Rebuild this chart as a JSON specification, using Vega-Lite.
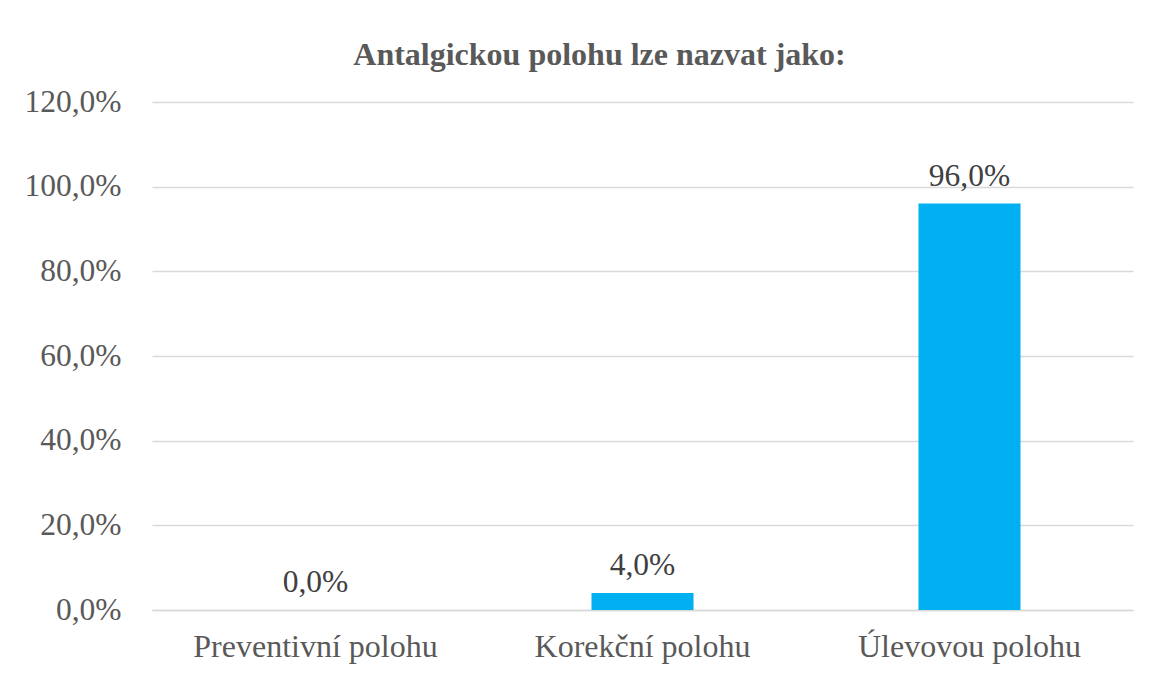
{
  "$schema": "https://vega.github.io/schema/vega-lite/v6.json",
  "autosize": {"type": "none"},
  "width": 981,
  "height": 508,
  "padding": {"left": 152, "top": 102, "right": 16, "bottom": 65},
  "background": "white",
  "config": {
    "locale": {"number": {"decimal": ",", "thousands": " ", "grouping": [3], "currency": ["", " Kč"]}},
    "view": {"stroke": null},
    "font": "Times New Roman, Liberation Serif, serif"
  },
  "title": {
    "text": "Antalgickou polohu lze nazvat jako:",
    "font": "Times New Roman, Liberation Serif, serif",
    "fontSize": 32,
    "fontWeight": "bold",
    "color": "#595959",
    "anchor": "middle",
    "baseline": "alphabetic",
    "offset": 34,
    "dx": -43,
    "dy": 45
  },
  "data": {
    "values": [
      {"kategorie": "Preventivní polohu", "podil": 0.0},
      {"kategorie": "Korekční polohu", "podil": 0.04},
      {"kategorie": "Úlevovou polohu", "podil": 0.96}
    ]
  },
  "encoding": {
    "x": {
      "field": "kategorie",
      "type": "nominal",
      "sort": null,
      "scale": {"paddingInner": 0, "paddingOuter": 0},
      "axis": {
        "title": null,
        "labelAngle": 0,
        "labelFont": "Times New Roman, Liberation Serif, serif",
        "labelFontSize": 32,
        "labelColor": "#595959",
        "labelPadding": 21,
        "labelLimit": 0,
        "ticks": false,
        "domainColor": "#D9D9D9",
        "domainWidth": 1.5,
        "grid": false
      }
    },
    "y": {
      "field": "podil",
      "type": "quantitative",
      "scale": {"domain": [0, 1.2], "nice": false},
      "axis": {
        "title": null,
        "format": ".1%",
        "values": [0, 0.2, 0.4, 0.6, 0.8, 1.0, 1.2],
        "labelFont": "Times New Roman, Liberation Serif, serif",
        "labelFontSize": 31.5,
        "labelColor": "#595959",
        "labelPadding": 31,
        "ticks": false,
        "domain": false,
        "gridColor": "#D9D9D9",
        "gridWidth": 1.5
      }
    }
  },
  "layer": [
    {
      "mark": {"type": "bar", "color": "#00B0F0", "width": {"band": 0.312}}
    },
    {
      "mark": {
        "type": "text",
        "baseline": "alphabetic",
        "dy": -18,
        "font": "Times New Roman, Liberation Serif, serif",
        "fontSize": 31.5,
        "color": "#404040"
      },
      "encoding": {
        "text": {"field": "podil", "type": "quantitative", "format": ".1%"}
      }
    }
  ]
}
